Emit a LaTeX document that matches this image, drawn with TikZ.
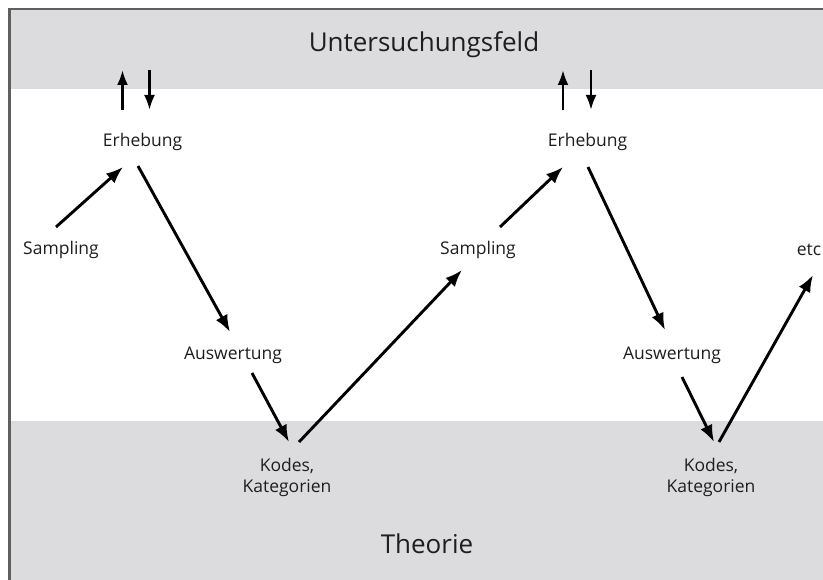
\documentclass[tikz,border=0pt]{standalone}
\usepackage{fontspec}
\setmainfont{Open Sans}
\usetikzlibrary{arrows.meta,calc}
\definecolor{band}{RGB}{220,220,222}
\definecolor{frame}{RGB}{95,95,95}
\definecolor{txt}{RGB}{30,30,30}
\tikzset{
  lbl/.style={inner sep=0pt,text=txt,font=\fontsize{17.5}{21}\selectfont,align=center},
  big/.style={inner sep=0pt,text=txt,font=\fontsize{26}{30}\selectfont},
  arr/.style={line width=2.9pt,-{Latex[length=17pt,width=13pt]}},
  tarr/.style={line width=2.6pt,-{Latex[length=15pt,width=11pt]}}
}
\begin{document}
\begin{tikzpicture}[x=1pt,y=-1pt]
\useasboundingbox (0,0) rectangle (823,580);
\fill[white] (0,0) rectangle (823,580);
\fill[band] (10,10) rectangle (823,89);
\fill[band] (10,421) rectangle (823,580);
\draw[frame,line width=2.5pt] (9.25,580) -- (9.25,9.25) -- (823,9.25);

\node[big] (uf) at (424,45) {Untersuchungsfeld};
\node[big] (th) at (427,544) {Theorie};

\node[lbl] (e1) at (142.5,142) {Erhebung};
\node[lbl] (s1) at (61,250) {Sampling};
\node[lbl] (a1) at (233,355) {Auswertung};
\node[lbl] (k1) at (287,477) {Kodes,\\Kategorien};
\node[lbl] (e2) at (587.5,142) {Erhebung};
\node[lbl] (s2) at (478,250) {Sampling};
\node[lbl] (a2) at (672,355) {Auswertung};
\node[lbl] (k2) at (711,477) {Kodes,\\Kategorien};
\node[lbl] (etc) at (809,250) {etc};

\coordinate (u1a) at ($(e1)+(-20,-72)$);
\coordinate (u1b) at ($(e1)+(7,-72)$);
\coordinate (u2a) at ($(e2)+(-24.5,-72)$);
\coordinate (u2b) at ($(e2)+(3.5,-72)$);

\draw[tarr] ($(e1)+(-20,-32)$) -- (u1a);
\draw[tarr] (u1b) -- ($(e1)+(7,-32)$);
\draw[tarr] ($(e2)+(-24.5,-32)$) -- (u2a);
\draw[tarr] (u2b) -- ($(e2)+(3.5,-32)$);

\draw[arr] ($(s1)+(-5,-23)$) -- ($(e1)+(-19.5,25)$);
\draw[arr] ($(e1)+(-4.5,24)$) -- ($(a1)+(-3,-23)$);
\draw[arr] ($(a1)+(19,18)$) -- ($(k1)+(2,-35)$);
\draw[arr] ($(k1)+(12,-35)$) -- ($(s2)+(-16,20)$);
\draw[arr] ($(s2)+(22,-23)$) -- ($(e2)+(-24.5,25)$);
\draw[arr] ($(e2)+(0.5,25)$) -- ($(a2)+(-7,-25)$);
\draw[arr] ($(a2)+(10,22)$) -- ($(k2)+(3,-35)$);
\draw[arr] ($(k2)+(8,-35)$) -- ($(etc)+(4,25)$);
\end{tikzpicture}
\end{document}
